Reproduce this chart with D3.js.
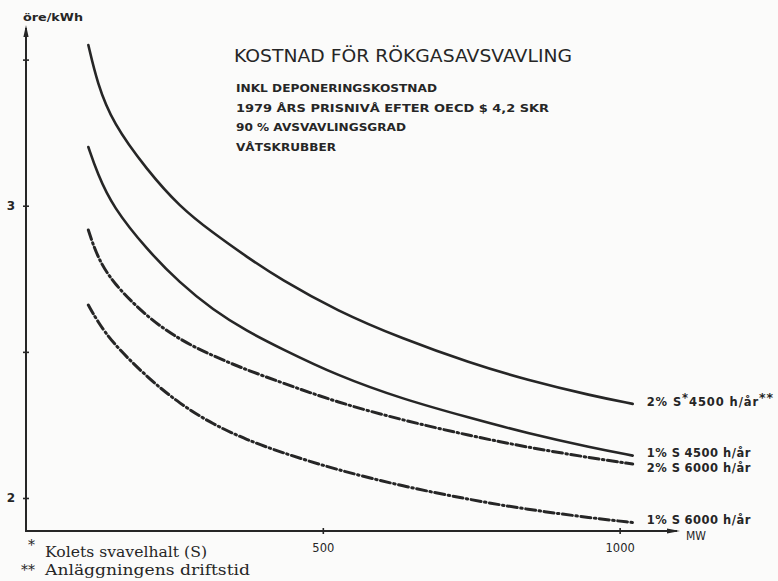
<!DOCTYPE html>
<html>
<head>
<meta charset="utf-8">
<script src="https://cdn.jsdelivr.net/npm/d3@7"></script>
<style>
  html, body { margin: 0; padding: 0; background: #fbfbfa; }
  svg { display: block; }
</style>
</head>
<body>
<script>
// Plant size (MW) at which each cost curve is read
const capacityMW = [105, 120, 146, 204, 259, 315, 372, 428, 524, 635, 748, 843, 955, 1022];

// Cost of flue gas desulphurisation, öre/kWh
const cost2pct4500 = [3.550, 3.420, 3.283, 3.122, 2.996, 2.907, 2.825, 2.749, 2.640, 2.544, 2.462, 2.404, 2.349, 2.322];
const cost1pct4500 = [3.201, 3.112, 2.996, 2.849, 2.736, 2.643, 2.571, 2.513, 2.419, 2.338, 2.274, 2.222, 2.171, 2.145];
const cost2pct6000 = [2.917, 2.825, 2.736, 2.619, 2.541, 2.486, 2.438, 2.397, 2.327, 2.266, 2.213, 2.174, 2.136, 2.116];
const cost1pct6000 = [2.660, 2.606, 2.530, 2.413, 2.322, 2.252, 2.199, 2.157, 2.096, 2.040, 1.994, 1.961, 1.931, 1.916];

const sulphur = ["2% S", "1% S", "2% S", "1% S"];
const hours = ["4500 h/år", "4500 h/år", "6000 h/år", "6000 h/år"];
const seriesDashed = [false, false, true, true];

const yTickValues = [2, 2.5, 3, 3.5];
const yTickLabels = ["2", "", "3", ""];
const xTickValues = [500, 1000];
const xTickLabels = ["500", "1000"];

const titleText = "KOSTNAD FÖR RÖKGASAVSVAVLING";
const subtitleLines = [
  "INKL DEPONERINGSKOSTNAD",
  "1979 ÅRS PRISNIVÅ EFTER OECD $ 4,2 SKR",
  "90 % AVSVAVLINGSGRAD",
  "VÅTSKRUBBER"
];
const footnotes = [
  ["*", "Kolets svavelhalt (S)"],
  ["**", "Anläggningens driftstid"]
];

const W = 778, H = 581;
const ink = "#262626";
const letterFont = "'DejaVu Sans', sans-serif";

const svg = d3.select("body").append("svg")
  .attr("width", W).attr("height", H)
  .attr("viewBox", `0 0 ${W} ${H}`);

svg.append("rect").attr("width", W).attr("height", H).attr("fill", "#fbfbfa");

const x = d3.scaleLinear().domain([0, 1100]).range([26, 679]);
const y = d3.scaleLinear().domain([1.887, 3.615]).range([531, 26]);

// ---- axes ----
const yAxis = d3.axisLeft(y)
  .tickValues(yTickValues)
  .tickSize(0)
  .tickPadding(11)
  .tickFormat((d, i) => yTickLabels[i]);

const gy = svg.append("g").attr("transform", `translate(${x(0)},0)`).call(yAxis);
gy.select(".domain").remove();
gy.selectAll(".tick text")
  .attr("font-family", letterFont).attr("font-size", 12).attr("font-weight", "bold")
  .attr("fill", ink);
gy.selectAll(".tick").append("line")
  .attr("x1", -3).attr("x2", 3).attr("stroke", ink).attr("stroke-width", 1.6);

const xAxis = d3.axisBottom(x)
  .tickValues(xTickValues)
  .tickSize(0)
  .tickPadding(13)
  .tickFormat((d, i) => xTickLabels[i]);

const gx = svg.append("g").attr("transform", `translate(0,${y(1.887)})`).call(xAxis);
gx.select(".domain").remove();
gx.selectAll(".tick text")
  .attr("font-family", letterFont).attr("font-size", 11.5)
  .attr("fill", ink);
gx.selectAll(".tick").append("line")
  .attr("y1", -3).attr("y2", 3).attr("stroke", ink).attr("stroke-width", 1.6);

// axis lines with arrowheads
const x0 = x(0), yBase = y(1.887);
const xEnd = x(1100), yTop = y(3.615);
svg.append("line").attr("x1", x0).attr("y1", yBase).attr("x2", x0).attr("y2", yTop + 2)
  .attr("stroke", ink).attr("stroke-width", 2);
svg.append("line").attr("x1", x0 - 1).attr("y1", yBase).attr("x2", xEnd - 2).attr("y2", yBase)
  .attr("stroke", ink).attr("stroke-width", 2);
svg.append("path")
  .attr("d", `M${x0},${yTop - 1} L${x0 - 2.6},${yTop + 11} L${x0 + 2.6},${yTop + 11} Z`)
  .attr("fill", ink);
svg.append("path")
  .attr("d", `M${xEnd + 1},${yBase} L${xEnd - 12},${yBase - 2.6} L${xEnd - 12},${yBase + 2.6} Z`)
  .attr("fill", ink);

// axis units
svg.append("text").attr("x", x0 - 3).attr("y", 21)
  .attr("font-family", letterFont).attr("font-size", 11).attr("font-weight", "bold")
  .attr("textLength", 60).attr("lengthAdjust", "spacingAndGlyphs")
  .attr("fill", ink).text("öre/kWh");
svg.append("text").attr("x", xEnd + 7).attr("y", yBase + 8.5)
  .attr("font-family", letterFont).attr("font-size", 12.5)
  .attr("textLength", 20).attr("lengthAdjust", "spacingAndGlyphs")
  .attr("fill", ink).text("MW");

// ---- curves (B-spline through the read points) ----
const allSeries = [cost2pct4500, cost1pct4500, cost2pct6000, cost1pct6000];
const line = d3.line()
  .x(d => x(d[0]))
  .y(d => y(d[1]))
  .curve(d3.curveBasis);

allSeries.forEach((vals, i) => {
  const pts = capacityMW.map((m, j) => [m, vals[j]]);
  svg.append("path")
    .datum(pts)
    .attr("d", line)
    .attr("fill", "none")
    .attr("stroke", ink)
    .attr("stroke-width", seriesDashed[i] ? 3 : 2.6)
    .attr("stroke-linecap", "round")
    .attr("stroke-dasharray", seriesDashed[i] ? "10,3.5,1.5,3.5" : null);
});

// ---- curve labels at right end ----
const lastMW = capacityMW[capacityMW.length - 1];
const lx = x(lastMW) + 14;
const labelShift = [-2, -2.5, 4, -3];   // keeps the two middle labels apart
const capHalf = 4.3;
allSeries.forEach((vals, i) => {
  const t = svg.append("text")
    .attr("x", lx)
    .attr("y", y(vals[vals.length - 1]) + labelShift[i] + capHalf)
    .attr("font-family", letterFont)
    .attr("font-size", i === 0 ? 11.5 : 11.5)
    .attr("font-weight", "bold")
    .attr("letter-spacing", i === 0 ? 0.9 : 0.5)
    .attr("fill", ink);
  if (i === 0) {
    // the top curve also carries the footnote markers
    t.append("tspan").text(sulphur[i]);
    t.append("tspan").attr("dy", -4).text("*");
    t.append("tspan").attr("dy", 4).text(hours[i]);
    t.append("tspan").attr("dy", -4).attr("font-size", 12.5).text("**");
  } else {
    t.append("tspan").text(sulphur[i]);
    t.append("tspan").attr("dx", 4).text(hours[i]);
  }
});

// ---- title block ----
svg.append("text").attr("x", 234).attr("y", 62)
  .attr("font-family", letterFont).attr("font-size", 18.5)
  .attr("textLength", 338).attr("lengthAdjust", "spacingAndGlyphs")
  .attr("fill", ink).text(titleText);

const subWidths = [201, 313, 170, 100];
subtitleLines.forEach((s, i) => {
  svg.append("text").attr("x", 236).attr("y", 92 + i * 19.7)
    .attr("font-family", letterFont).attr("font-size", 11.3).attr("font-weight", "bold")
    .attr("textLength", subWidths[i]).attr("lengthAdjust", "spacingAndGlyphs")
    .attr("fill", ink).text(s);
});

// ---- footnotes ----
const fnWidths = [162, 205];
const starBaseline = [550, 575];
footnotes.forEach((f, i) => {
  const yy = 557 + i * 18;
  svg.append("text").attr("x", i === 0 ? 28 : 21).attr("y", starBaseline[i])
    .attr("font-family", "'DejaVu Serif', serif").attr("font-size", 14)
    .attr("fill", ink).text(f[0]);
  svg.append("text").attr("x", 45).attr("y", yy)
    .attr("font-family", "'DejaVu Serif', serif").attr("font-size", 15)
    .attr("textLength", fnWidths[i]).attr("lengthAdjust", "spacingAndGlyphs")
    .attr("fill", ink).text(f[1]);
});
</script>
</body>
</html>
